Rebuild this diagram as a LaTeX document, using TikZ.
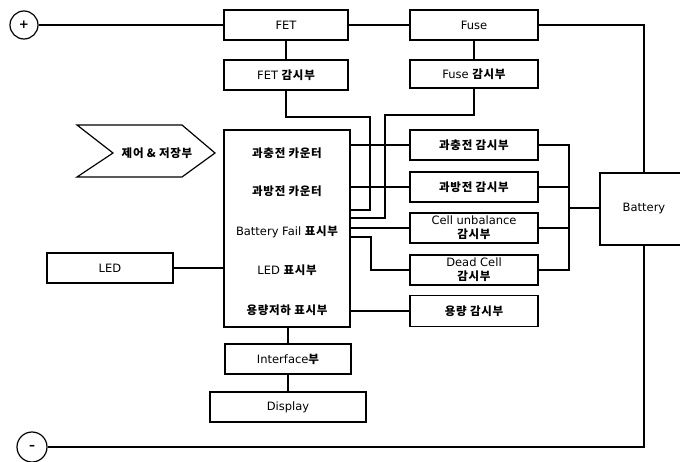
\documentclass[tikz,border=0pt]{standalone}
\usepackage{fontspec}
\setmainfont{DejaVu Sans}
\newfontfamily\krfont{Noto Sans CJK KR}[LetterSpace=6]
\newcommand{\kor}[1]{{\krfont\bfseries #1}}
\begin{document}
\begin{tikzpicture}[x=1pt,y=-1pt,
  line width=1.2pt,
  box/.style={draw, rectangle, minimum width=126pt, minimum height=30pt, inner sep=0pt, align=center, font=\fontsize{11.5}{12}\selectfont},
  mon/.style={box, minimum width=128pt},
  lbl/.style={font=\fontsize{11.5}{12}\selectfont, inner sep=0pt},
  term/.style={draw, circle, minimum size=28pt, inner sep=0pt, font=\fontsize{12}{12}\selectfont\bfseries}]
\useasboundingbox (0,0) rectangle (680,461);

% terminals
\node[term] (plus) at (24,25) {+};
\node[term, minimum size=30pt] (minus) at (32,447) {--};

% top row
\node[box, minimum width=124pt] (fet) at (286,25) {FET};
\node[mon] (fuse) at (474,25) {Fuse};
\node[box, minimum width=124pt] (fetm) at (286,75) {FET \kor{감시부}};
\node[mon, minimum height=28pt] (fusem) at (474,74) {Fuse \kor{감시부}};

% main block
\node[draw, rectangle, minimum width=126pt, minimum height=197pt, inner sep=0pt] (main) at (287,228.5) {};
\node[lbl] (t1) at (287,153) {\kor{과충전 카운터}};
\node[lbl] (t2) at (287,191) {\kor{과방전 카운터}};
\node[lbl] (t3) at (287,232) {Battery Fail \kor{표시부}};
\node[lbl] (t4) at (287,270) {LED \kor{표시부}};
\node[lbl] (t5) at (287,310) {\kor{용량저하 표시부}};

\node[box] (iface) at (288,359) {Interface\kor{부}};
\node[box, minimum width=156pt] (disp) at (288,407) {Display};
\node[box] (led) at (110,268) {LED};

% monitor column
\node[mon] (oc) at (474,145) {\kor{과충전 감시부}};
\node[mon] (od) at (474,187) {\kor{과방전 감시부}};
\node[mon] (cu) at (474,228) {Cell unbalance\\[2pt]\kor{감시부}};
\node[mon] (dc) at (474,270) {Dead Cell\\[2pt]\kor{감시부}};
\node[mon, minimum height=31pt] (cap) at (474,311) {\kor{용량 감시부}};

% battery
\node[box, minimum width=88pt, minimum height=72pt] (bat) at (644,209) {Battery};

% chevron
\draw (77,125) -- (182,125) -- (215,153) -- (182,177) -- (77,177) -- (113,153) -- cycle;
\node[lbl] (ctrl) at (157,153) {\kor{제어 \& 저장부}};

% connectors
\coordinate (bj) at (569,208);
\draw (plus.east) -- (fet.west);
\draw (fet.east) -- (fuse.west);
\draw (fuse.east) -| (bat.north);
\draw (fet.south) -- (fetm.north);
\draw (fuse.south) -- (fusem.north);
\draw (fetm.south) -- (286,117) -- (370,117) -- (370,210) -- (main.east |- 0,210);
\draw (fusem.south) -- (474,115) -- (385,115) -- (385,218) -- (main.east |- 0,218);
\draw (main.east |- oc.west) -- (oc.west);
\draw (main.east |- od.west) -- (od.west);
\draw (main.east |- cu.west) -- (cu.west);
\draw (main.east |- 0,237) -- (371,237) -- (371,270) -- (dc.west);
\draw (main.east |- cap.west) -- (cap.west);
\draw (oc.east) -| (569,270) -- (dc.east);
\draw (od.east) -- (od.east -| bj);
\draw (cu.east) -- (cu.east -| bj);
\draw (bj) -- (bat.west |- bj);
\draw (led.east) -- (main.west |- led.east);
\draw (main.south -| iface.north) -- (iface.north);
\draw (iface.south) -- (disp.north);
\draw (minus.east) -| (bat.south);
\end{tikzpicture}
\end{document}
